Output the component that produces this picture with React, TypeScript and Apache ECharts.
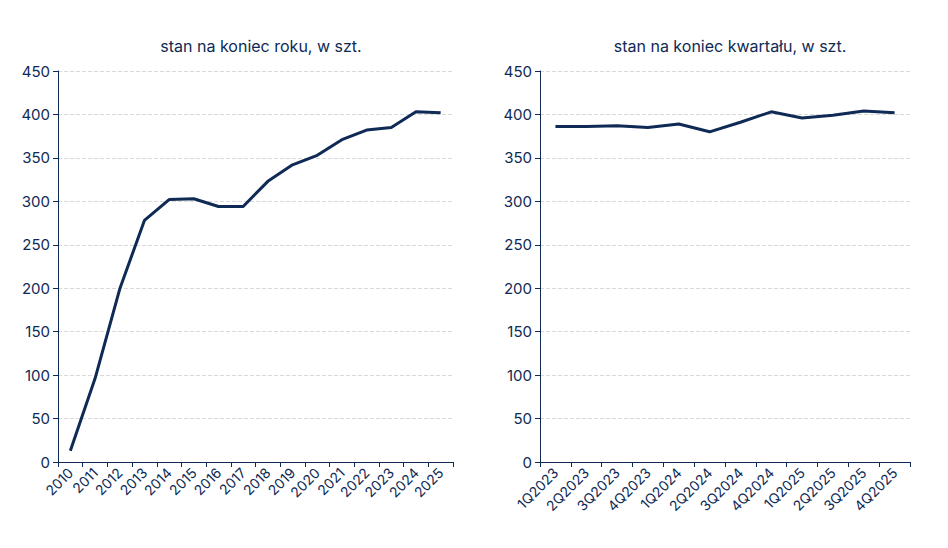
import React, { useEffect, useRef } from 'react';
import * as echarts from 'echarts';

const years = ['2010', '2011', '2012', '2013', '2014', '2015', '2016', '2017', '2018', '2019', '2020', '2021', '2022', '2023', '2024', '2025'];
const yearValues = [13, 96, 199, 278, 302, 303, 294, 294, 323, 342, 353, 371, 382, 385, 403, 402];
const quarters = ['1Q2023', '2Q2023', '3Q2023', '4Q2023', '1Q2024', '2Q2024', '3Q2024', '4Q2024', '1Q2025', '2Q2025', '3Q2025', '4Q2025'];
const quarterValues = [386, 386, 387, 385, 389, 380, 391, 403, 396, 399, 404, 402];

const NAVY = '#0e2a55';
const FONT = 'Inter, "Noto Sans", sans-serif';

const xAxisBase = (data: string[], gridIndex: number) => ({
  type: 'category' as const,
  gridIndex,
  data,
  boundaryGap: true,
  axisLine: { lineStyle: { color: NAVY, width: 1 } },
  axisTick: { show: true, lineStyle: { color: NAVY } },
  axisLabel: { color: NAVY, fontSize: 14, rotate: 45, fontFamily: FONT, margin: 8, interval: 0 }
});

const yAxisBase = (gridIndex: number) => ({
  type: 'value' as const,
  gridIndex,
  min: 0,
  max: 450,
  interval: 50,
  axisLine: { show: true, lineStyle: { color: NAVY } },
  axisTick: { show: true, lineStyle: { color: NAVY } },
  axisLabel: { color: NAVY, fontSize: 15, fontFamily: FONT },
  splitLine: { lineStyle: { color: '#d9d9d9', type: 'dashed' } }
});

const seriesBase = (data: number[], idx: number) => ({
  type: 'line' as const,
  xAxisIndex: idx,
  yAxisIndex: idx,
  data,
  symbol: 'circle',
  symbolSize: 2,
  showSymbol: true,
  itemStyle: { color: NAVY, opacity: 0 },
  lineStyle: { color: NAVY, width: 3 },
  label: {
    show: true,
    position: 'top' as const,
    rotate: 90,
    align: 'left' as const,
    verticalAlign: 'middle' as const,
    distance: 8,
    color: NAVY,
    fontSize: 15,
    fontFamily: FONT
  },
  labelLayout: { hideOverlap: false }
});

const App: React.FC = () => {
  const ref = useRef<HTMLDivElement>(null);

  useEffect(() => {
    if (!ref.current) return;
    const chart = echarts.init(ref.current, undefined, { renderer: 'svg' });
    chart.setOption({
      animation: false,
      title: [
        { text: 'stan na koniec roku, w szt.', left: 248, top: 25, textAlign: 'center', textStyle: { color: NAVY, fontSize: 16, fontWeight: 'normal', fontFamily: FONT } },
        { text: 'stan na koniec kwartału, w szt.', left: 717, top: 25, textAlign: 'center', textStyle: { color: NAVY, fontSize: 16, fontWeight: 'normal', fontFamily: FONT } }
      ],
      grid: [
        { left: 50, width: 395, top: 63, bottom: 78 },
        { left: 532, width: 370, top: 63, bottom: 78 }
      ],
      xAxis: [xAxisBase(years, 0), xAxisBase(quarters, 1)],
      yAxis: [yAxisBase(0), yAxisBase(1)],
      series: [seriesBase(yearValues, 0), seriesBase(quarterValues, 1)]
    });
    return () => chart.dispose();
  }, []);

  return <div ref={ref} style={{ width: 932, height: 532, background: '#fff' }} />;
};

export default App;
